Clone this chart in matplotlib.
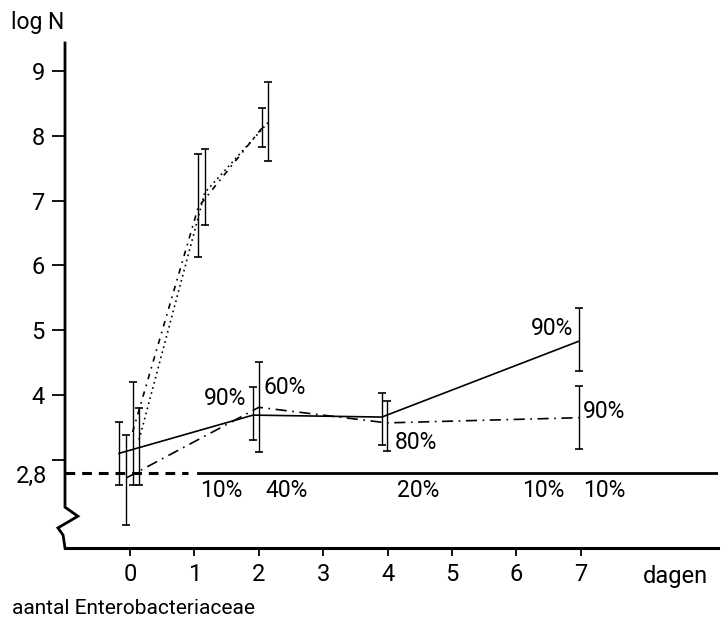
import numpy as np
import matplotlib
matplotlib.use("Agg")
import matplotlib.pyplot as plt

plt.rcParams['font.family'] = ['Roboto', 'DejaVu Sans']
plt.rcParams['lines.scale_dashes'] = False

# ---- data -------------------------------------------------------------
day_ticks = [0, 1, 2, 3, 4, 5, 6, 7]
detection_limit = 2.8

# solid series (lower, runs to day 7)
solid_days = [-0.17, 1.91, 3.91, 6.97]
solid_logn = [3.10, 3.69, 3.66, 4.83]
solid_lo = [2.61, 3.31, 3.23, 4.37]
solid_hi = [3.58, 4.12, 4.03, 5.34]

# dash-dot series (lower, runs to day 7)
dashdot_days = [-0.06, 2.00, 3.99, 6.97]
dashdot_logn = [2.72, 3.81, 3.57, 3.65]
dashdot_lo = [1.99, 3.12, 3.14, 3.17]
dashdot_hi = [3.38, 4.51, 3.91, 4.14]

# fast-growing series (dash-dot, short dashes)
fastA_days = [0.04, 1.06, 2.05]
fastA_logn = [3.43, 6.90, 8.12]
fastA_lo = [2.61, 6.13, 7.83]
fastA_hi = [4.20, 7.72, 8.43]

# fast-growing series (dotted)
fastB_days = [0.14, 1.16, 2.14]
fastB_logn = [3.31, 7.12, 8.20]
fastB_lo = [2.61, 6.62, 7.61]
fastB_hi = [3.80, 7.80, 8.83]

# percentage annotations: text, day, logN, alignment
pct_labels = [
    ("90%", 1.80, 3.94, 'right'),
    ("60%", 2.07, 4.11, 'left'),
    ("80%", 4.11, 3.27, 'left'),
    ("90%", 6.88, 5.02, 'right'),
    ("90%", 7.03, 3.74, 'left'),
    ("10%", 1.09, 2.53, 'left'),
    ("40%", 2.10, 2.53, 'left'),
    ("20%", 4.15, 2.53, 'left'),
    ("10%", 6.09, 2.53, 'left'),
    ("10%", 7.03, 2.53, 'left'),
]

# ---- figure -----------------------------------------------------------
W, H = 723, 631
fig = plt.figure(figsize=(W / 100, H / 100), dpi=100)
fig.patch.set_facecolor('white')

x0_px, x1_px, ybot_px, ytop_px = 65, 718, 548, 43
ax = fig.add_axes([x0_px / W, 1 - ybot_px / H, (x1_px - x0_px) / W, (ybot_px - ytop_px) / H])
xmin, xmax = -1.01, 9.13
ymin, ymax = 1.64, 9.43
ax.set_xlim(xmin, xmax)
ax.set_ylim(ymin, ymax)

for s in ('top', 'right', 'left'):
    ax.spines[s].set_visible(False)
ax.spines['bottom'].set_linewidth(2.2)
ax.spines['bottom'].set_color('black')

# left axis with a break (zigzag) below the detection limit
ya, yb, yc, yd = 2.27, 2.13, 1.95, 1.84
ax.plot([xmin, xmin, -0.81, -1.12, xmin - 0.03, xmin],
        [ymax, ya, yb, yc, yd, ymin],
        color='black', lw=2.0, clip_on=False, solid_joinstyle='miter', zorder=5)

ax.set_xticks(day_ticks)
ax.set_xticklabels([str(d) for d in day_ticks], fontsize=17)
ax.tick_params(axis='x', direction='out', length=6, width=1.3, pad=5)

yt = [3, 4, 5, 6, 7, 8, 9]
ax.set_yticks(yt)
ax.set_yticklabels(['' if v == 3 else str(v) for v in yt], fontsize=17)
ax.tick_params(axis='y', direction='out', length=9.5, width=1.3, pad=5)

# detection limit line: dashed near the axis, solid further on
ax.plot([xmin, 0.90], [detection_limit] * 2, color='black', lw=2.2,
        linestyle=(0, (7, 5)), solid_capstyle='butt')
ax.plot([1.06, xmax], [detection_limit] * 2, color='black', lw=2.0)
ax.text(-1.29, 2.75, "2,8", fontsize=17, ha='right', va='center')

err_kw = dict(fmt='none', ecolor='black', elinewidth=1.0, capsize=3.2, capthick=1.2, zorder=3)


def draw(days, vals, lo, hi, ls):
    days = np.asarray(days)
    vals = np.asarray(vals)
    yerr = [vals - np.asarray(lo), np.asarray(hi) - vals]
    ax.errorbar(days, vals, yerr=yerr, **err_kw)
    ax.plot(days, vals, color='black', lw=1.2, linestyle=ls, zorder=4)


draw(solid_days, solid_logn, solid_lo, solid_hi, '-')
draw(dashdot_days, dashdot_logn, dashdot_lo, dashdot_hi, (0, (8, 4, 1.2, 4)))
draw(fastA_days, fastA_logn, fastA_lo, fastA_hi, (0, (4, 4, 1.2, 4)))
draw(fastB_days, fastB_logn, fastB_lo, fastB_hi, (0, (1.2, 2.6)))

for txt, d, v, ha in pct_labels:
    ax.text(d, v, txt, fontsize=16.5, ha=ha, va='center')

fig.text(11 / W, 1 - 23 / H, "log N", fontsize=16.5, ha='left', va='center')
fig.text(708 / W, 1 - 577 / H, "dagen", fontsize=17, ha='right', va='center')
fig.text(12 / W, 1 - 608 / H, "aantal Enterobacteriaceae", fontsize=15, ha='left', va='center')

fig.savefig("out.png", dpi=100, facecolor='white')
